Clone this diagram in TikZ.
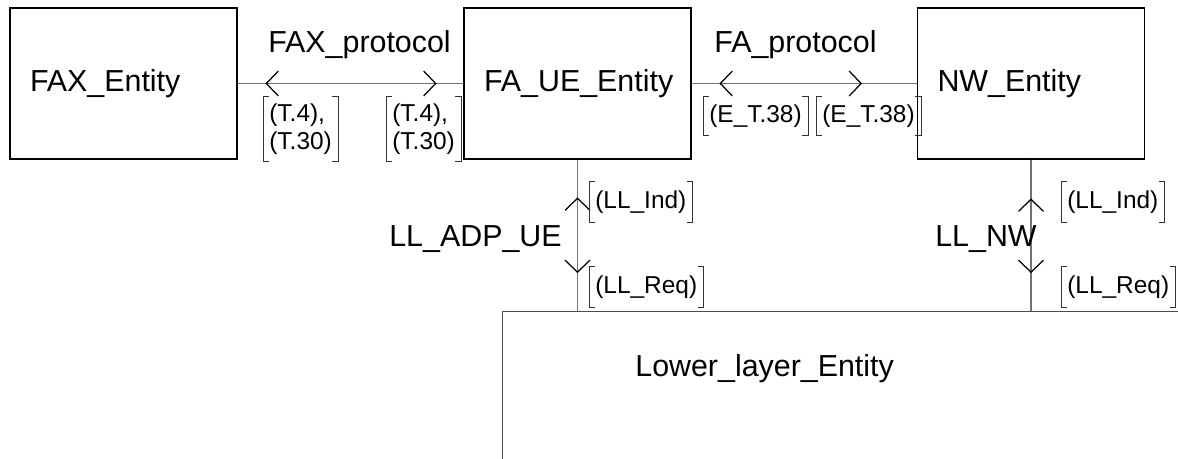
\documentclass[tikz,border=0pt]{standalone}
\usepackage{fontspec}
\setmainfont{Liberation Sans}
\usepackage{tikz}
\usetikzlibrary{arrows.meta, positioning, calc, decorations.markings}
\newcommand{\bigtxt}{\fontsize{17.3}{20}\selectfont}
\newcommand{\smalltxt}{\fontsize{13.9}{16}\selectfont}
% signal label with square brackets on both sides
\newcommand{\sigbrk}[4][]{%
  \node[sig,#1] (#2) at (#3) {#4};
  \draw[brk] ([xshift=0.12cm]#2.north west) -| (#2.south west) -- ++(0.12cm,0);
  \draw[brk] ([xshift=-0.12cm]#2.north east) -| (#2.south east) -- ++(-0.12cm,0);
}
\tikzset{
  chv/.tip={Straight Barb[length=0.24cm,width=0.5cm]},
  entity/.style={draw=black, line width=0.6pt, minimum width=4.54cm, minimum height=3.02cm,
    text width=3.74cm, inner xsep=0.4cm, align=left, font=\bigtxt},
  sig/.style={anchor=north west, inner xsep=0.12cm, inner ysep=0pt, minimum height=0.8cm,
    align=left, font=\smalltxt},
  brk/.style={draw=black!80, line width=0.5pt},
  conn/.style={draw=black!55, line width=0.7pt, postaction={decorate}},
  plabel/.style={anchor=base, font=\bigtxt}
}
\begin{document}
\begin{tikzpicture}[x=0.02cm, y=-0.02cm]
  \useasboundingbox (0,0) rectangle (1178,459);
  \clip (0,0) rectangle (1178,459);

  % Entities
  \node[entity] (fax) at (123.5,83.5) {FAX\_Entity};
  \node[entity] (faue) at (577.5,83.5) {FA\_UE\_Entity};
  \node[entity] (nw) at (1031,83.5) {NW\_Entity};
  \node[draw=black!70, line width=0.6pt, anchor=north west, minimum width=16cm,
    minimum height=4cm, inner sep=0pt] (lower) at (502,311) {};
  \node[anchor=base west, inner sep=0pt, font=\bigtxt] (lowertxt) at (635,377) {Lower\_layer\_Entity};

  % Protocols
  \draw[conn, decoration={markings,
      mark=at position 0.56cm with {\arrowreversed[black]{chv}},
      mark=at position -0.54cm with {\arrow[black]{chv}}}]
    (fax.east) -- (faue.west);
  \draw[conn, decoration={markings,
      mark=at position 0.56cm with {\arrowreversed[black]{chv}},
      mark=at position -1.1cm with {\arrow[black]{chv}}}]
    (faue.east) -- (nw.west);
  \node[plabel] (faxp) at (359.5,53) {FAX\_protocol};
  \node[plabel] (fap) at (795.5,53) {FA\_protocol};

  % Lower layer interfaces
  \draw[conn, decoration={markings,
      mark=at position 0.76cm with {\arrowreversed[black]{chv}},
      mark=at position -0.76cm with {\arrow[black]{chv}}}]
    (faue.south) -- (faue.south |- lower.north);
  \draw[conn, decoration={markings,
      mark=at position 0.78cm with {\arrowreversed[black]{chv}},
      mark=at position -0.76cm with {\arrow[black]{chv}}}]
    (nw.south) -- (nw.south |- lower.north);
  \node[plabel] (lladp) at (475.5,247) {LL\_ADP\_UE};
  \node[plabel] (llnw) at (986,247) {LL\_NW};

  % Signals
  \sigbrk[minimum height=1.3cm]{t4a}{263,96}{(T.4),\\(T.30)}
  \sigbrk[minimum height=1.3cm]{t4b}{386,96}{(T.4),\\(T.30)}
  \sigbrk[minimum height=0.78cm]{e38a}{703,96}{(E\_T.38)}
  \sigbrk[minimum height=0.78cm]{e38b}{816,96}{(E\_T.38)}
  \sigbrk[minimum height=0.82cm]{inda}{589,181}{(LL\_Ind)}
  \sigbrk[minimum height=0.82cm]{reqa}{589,266}{(LL\_Req)}
  \sigbrk[minimum height=0.82cm]{indb}{1061,181}{(LL\_Ind)}
  \sigbrk[minimum height=0.82cm]{reqb}{1061,266}{(LL\_Req)}
\end{tikzpicture}
\end{document}
